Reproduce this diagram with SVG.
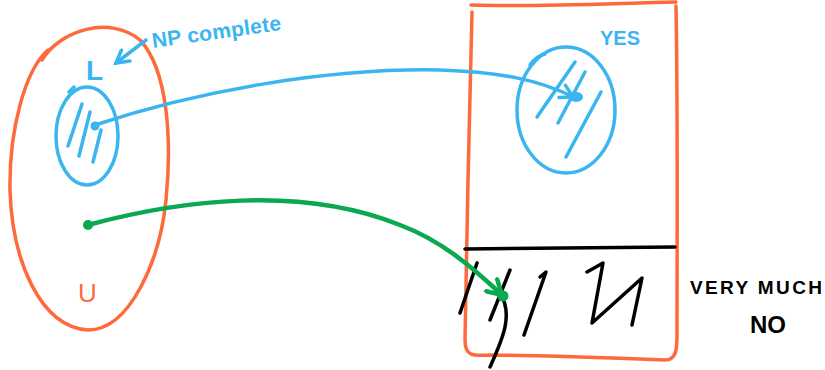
<svg xmlns="http://www.w3.org/2000/svg" width="825" height="370" viewBox="0 0 825 370">
<defs>
<style>
.o{fill:none;stroke:#ff6a3d;stroke-width:3.5;stroke-linecap:round;stroke-linejoin:round}
.b{fill:none;stroke:#3bb5f0;stroke-width:3.5;stroke-linecap:round;stroke-linejoin:round}
.g{fill:none;stroke:#0aa84f;stroke-width:4.5;stroke-linecap:round;stroke-linejoin:round}
.k{fill:none;stroke:#000;stroke-width:3.5;stroke-linecap:round;stroke-linejoin:round}
.tb{fill:#3bb5f0;font-family:"Liberation Sans",sans-serif;font-weight:bold}
.tk{fill:#000;font-family:"Liberation Sans",sans-serif;font-weight:bold}
</style>
<marker id="ab" viewBox="0 0 10 10" refX="8" refY="5" markerWidth="5" markerHeight="5" orient="auto"><path d="M1,1 L8,5 L1,9" fill="none" stroke="#3bb5f0" stroke-width="2" stroke-linecap="round"/></marker>
<marker id="ag" viewBox="0 0 10 10" refX="8" refY="5" markerWidth="4.5" markerHeight="4.5" orient="auto"><path d="M1,1 L8,5 L1,9" fill="none" stroke="#0aa84f" stroke-width="2.2" stroke-linecap="round"/></marker>
</defs>
<g id="universe">
<path class="o" d="M42,60 C60,30 110,15 140,40 C168,70 172,140 166,200 C160,260 130,330 88,330 C40,327 12,260 10,190 C9,130 25,70 48,50"/>
<text x="78" y="302" fill="#ff6a3d" font-family="Liberation Sans,sans-serif" font-size="26">U</text>
</g>
<g id="L">
<ellipse class="b" cx="87" cy="136" rx="31" ry="49"/>
<path class="b" d="M69,92 L74,87 M82,104 L68,146 M90,112 L79,156 M101,130 L93,162"/>
<text class="tb" x="86" y="80" font-size="28">L</text>
</g>
<g id="np-label">
<text class="tb" x="153" y="48" font-size="21" textLength="130" transform="rotate(-8 153 48)">NP complete</text>
<path class="b" d="M146,40 L116,63" marker-end="url(#ab)"/>
</g>
<g id="machine">
<path class="o" d="M472,12 C470,100 466,250 465,340 C465,356 472,356 490,355 C560,356 620,358 665,360 C676,360 677,350 677,335 C677,240 678,120 676,6"/>
<path class="o" d="M471,5 C540,7 620,3 676,2"/>
<line class="k" x1="465" y1="249" x2="675" y2="247"/>
<path class="k" d="M477,263 L460,313 M510,270 L490,320 M500,293 C514,315 502,340 490,367 M540,277 L546,272 L524,335 M587,272 L603,263 L592,323 L642,278 L632,325"/>
</g>
<g id="yes">
<ellipse class="b" cx="566" cy="110" rx="49" ry="63"/>
<path class="b" d="M530,65 C535,58 540,55 545,54 M575,62 L537,117 M585,72 L558,123 M601,92 L566,157"/>
<text class="tb" x="600" y="45" font-size="20" textLength="40">YES</text>
</g>
<g id="no-label">
<text class="tk" x="690" y="294" font-size="19" textLength="132">VERY MUCH</text>
<text class="tk" x="750" y="333" font-size="24">NO</text>
</g>
<g id="connectors">
<path class="b" d="M95,125 C200,90 330,68 440,70 C500,72 540,80 573,97" marker-end="url(#ab)"/>
<circle cx="95" cy="126" r="4.5" fill="#3bb5f0"/>
<ellipse cx="576" cy="97" rx="7" ry="5" fill="#3bb5f0"/>
<path class="g" d="M88,225 C180,200 300,185 400,225 C440,240 470,265 502,295" marker-end="url(#ag)"/>
<circle cx="88" cy="225" r="5" fill="#0aa84f"/>
<circle cx="503" cy="296" r="5.5" fill="#0aa84f"/>
</g>
</svg>
